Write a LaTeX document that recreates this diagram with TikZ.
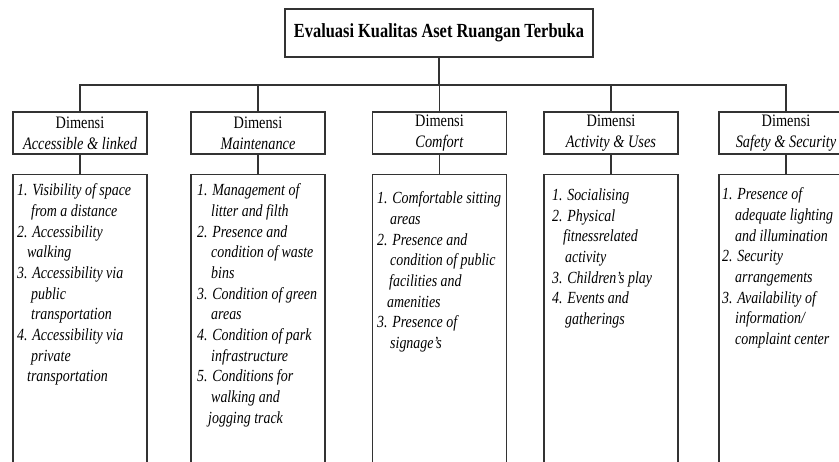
\documentclass[tikz,border=0pt]{standalone}
\usepackage{fontspec}
\setmainfont{Liberation Serif}[FakeStretch=0.82]
\begin{document}
\begin{tikzpicture}[x=1pt,y=-1pt,
  boxline/.style={draw=black!80, line width=1.3pt},
  titlebox/.style={boxline, minimum width=308pt, minimum height=48pt, inner sep=0pt, font=\fontsize{20}{23}\selectfont\bfseries},
  headbox/.style={boxline, minimum width=134pt, minimum height=42pt, inner sep=0pt, align=center, font=\fontsize{17.5}{21}\selectfont},
  listbox/.style={boxline, minimum width=134pt, minimum height=330pt, inner sep=0pt, anchor=north},
  listtext/.style={anchor=north west, inner sep=0pt, align=left, font=\fontsize{17}{20.7}\selectfont\itshape},
  conn/.style={draw=black!80, line width=1.3pt}
]
\useasboundingbox (0,0) rectangle (839,462);
\clip (0,0) rectangle (839,462);
\fill[white] (0,0) rectangle (839,462);

\node[titlebox] (title) at (439,33) {Evaluasi Kualitas Aset Ruangan Terbuka};
\coordinate (bus) at (439,85);

\node[headbox] (h1) at (80,133) {Dimensi\\\textit{Accessible \& linked}};
\node[headbox] (h2) at (258,133) {Dimensi\\\textit{Maintenance}};
\node[headbox] (h3) at (439.5,133) {Dimensi\\\textit{Comfort}};
\node[headbox] (h4) at (611,133) {Dimensi\\\textit{Activity \& Uses}};
\node[headbox] (h5) at (786,133) {Dimensi\\\textit{Safety \& Security}};

\node[listbox] (l1) at (80,174) {};
\node[listbox] (l2) at (258,174) {};
\node[listbox] (l3) at (439.5,174) {};
\node[listbox] (l4) at (611,174) {};
\node[listbox] (l5) at (786,174) {};

\draw[conn] (title.south) -- (bus);
\draw[conn] (h1.north) -- (h1.north |- bus) -- (h5.north |- bus) -- (h5.north);
\foreach \n in {h2,h3,h4} \draw[conn] (\n.north) -- (\n.north |- bus);
\foreach \i in {1,...,5} \draw[conn] (h\i.south) -- (l\i.north);

\node[listtext] (t1) at (17,183.5) {1. Visibility of space\\
\hspace*{14pt}from a distance\\
2. Accessibility\\
\hspace*{10pt}walking\\
3. Accessibility via\\
\hspace*{14pt}public\\
\hspace*{14pt}transportation\\
4. Accessibility via\\
\hspace*{14pt}private\\
\hspace*{10pt}transportation};

\node[listtext] (t2) at (197,183.5) {1. Management of\\
\hspace*{14pt}litter and filth\\
2. Presence and\\
\hspace*{14pt}condition of waste\\
\hspace*{14pt}bins\\
3. Condition of green\\
\hspace*{14pt}areas\\
4. Condition of park\\
\hspace*{14pt}infrastructure\\
5. Conditions for\\
\hspace*{14pt}walking and\\
\hspace*{11pt}jogging track};

\node[listtext] (t3) at (377,191.5) {1. Comfortable sitting\\
\hspace*{13pt}areas\\
2. Presence and\\
\hspace*{13pt}condition of public\\
\hspace*{12pt}facilities and\\
\hspace*{10pt}amenities\\
3. Presence of\\
\hspace*{13pt}signage's};

\node[listtext] (t4) at (552,188.5) {1. Socialising\\
2. Physical\\
\hspace*{11pt}fitnessrelated\\
\hspace*{13pt}activity\\
3. Children's play\\
4. Events and\\
\hspace*{13pt}gatherings};

\node[listtext] (t5) at (722,187.5) {1. Presence of\\
\hspace*{13pt}adequate lighting\\
\hspace*{13pt}and illumination\\
2. Security\\
\hspace*{13pt}arrangements\\
3. Availability of\\
\hspace*{13pt}information/\\
\hspace*{13pt}complaint center};
\end{tikzpicture}
\end{document}
